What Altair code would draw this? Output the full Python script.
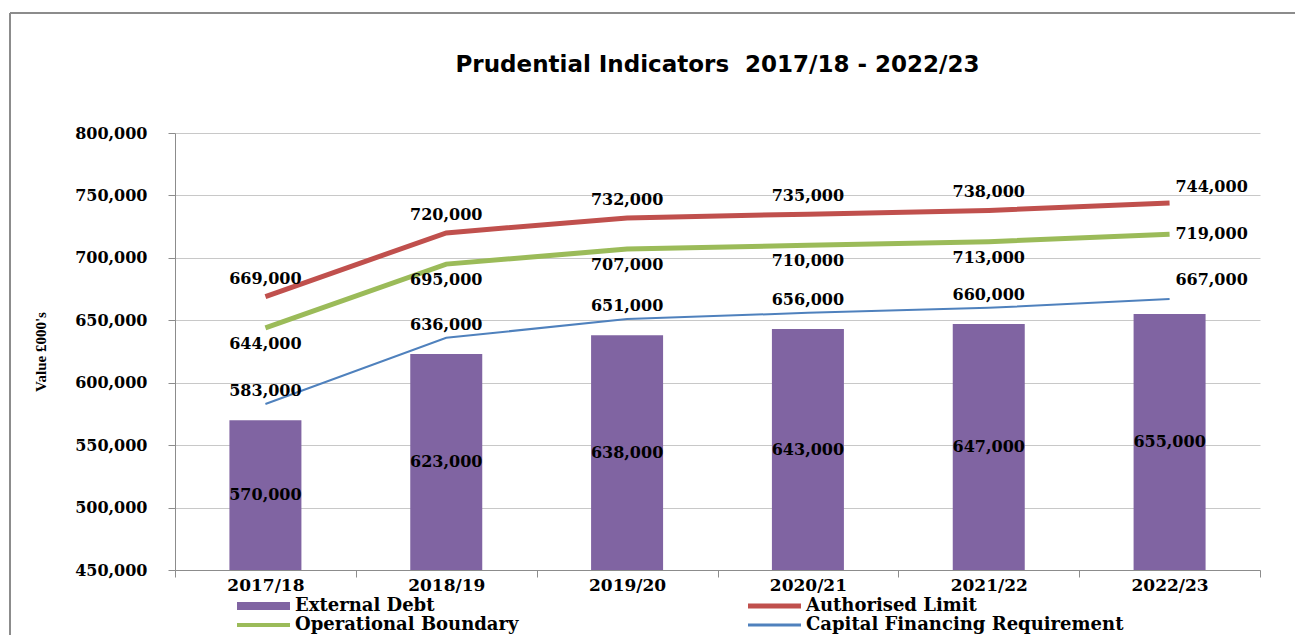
import altair as alt
import pandas as pd

years = ["2017/18", "2018/19", "2019/20", "2020/21", "2021/22", "2022/23"]
external_debt = [570000, 623000, 638000, 643000, 647000, 655000]
authorised_limit = [669000, 720000, 732000, 735000, 738000, 744000]
operational_boundary = [644000, 695000, 707000, 710000, 713000, 719000]
capital_financing = [583000, 636000, 651000, 656000, 660000, 667000]

series_names = ["External Debt", "Authorised Limit", "Operational Boundary",
                "Capital Financing Requirement"]
series_colors = ["#8064A2", "#C0504D", "#9BBB59", "#4F81BD"]
line_widths = [5, 5, 2]
legend_widths = [8, 5, 4, 3]

bars_df = pd.DataFrame({"year": years, "value": external_debt, "series": series_names[0]})
rows = []
for name, vals in zip(series_names[1:], [authorised_limit, operational_boundary, capital_financing]):
    for y, v in zip(years, vals):
        rows.append({"year": y, "value": v, "series": name})
lines_df = pd.DataFrame(rows)

LABEL_FONT = "DejaVu Serif"
W, H = 1085, 437

x_enc = alt.X("year:N", sort=years,
              scale=alt.Scale(domain=years, paddingInner=0, paddingOuter=0),
              axis=alt.Axis(title=None, labelAngle=0, labelFont=LABEL_FONT,
                            labelFontWeight="bold", labelFontSize=17, labelColor="black",
                            domainColor="#8c8c8c", tickColor="#8c8c8c", tickBand="extent",
                            tickSize=7, labelPadding=0, grid=False))
y_scale = alt.Scale(domain=[450000, 800000], nice=False, zero=False)
y_axis = alt.Axis(values=list(range(450000, 800001, 50000)), format=",.0f",
                  labelFont=LABEL_FONT, labelFontWeight="bold", labelFontSize=16,
                  labelColor="black", labelPadding=21, tickSize=7, tickColor="#8c8c8c",
                  domainColor="#8c8c8c", gridColor="#c8c8c8", title="Value £000's",
                  titleFont="Liberation Serif", titleFontSize=15, titleFontWeight="bold",
                  titleColor="black", titlePadding=26)


def yq(field):
    return alt.Y(field, type="quantitative", scale=y_scale, axis=y_axis)


bars = alt.Chart(bars_df).mark_bar(size=72, color=series_colors[0], clip=True).encode(
    x=x_enc,
    y=yq("value"),
)

text_style = dict(font=LABEL_FONT, fontWeight="bold", fontSize=16, color="black")

bar_labels = alt.Chart(bars_df).transform_calculate(
    mid="(450000 + datum.value) / 2"
).mark_text(**text_style).encode(
    x=x_enc,
    y=yq("mid"),
    text=alt.Text("value:Q", format=",.0f"),
)

line_layers = []
for name, sw, col in zip(series_names[1:], line_widths, series_colors[1:]):
    line_layers.append(
        alt.Chart(lines_df).transform_filter(alt.datum.series == name)
        .mark_line(strokeWidth=sw, color=col)
        .encode(x=x_enc, y=yq("value"))
    )

label_dy = {"Authorised Limit": (-18, -16), "Operational Boundary": (16, 0),
            "Capital Financing Requirement": (-13, -19)}
label_layers = []
for name, (dy, dy_last) in label_dy.items():
    base = alt.Chart(lines_df).transform_filter(alt.datum.series == name)
    label_layers.append(
        base.transform_filter(alt.datum.year != years[-1]).mark_text(dy=dy, **text_style)
        .encode(x=x_enc, y=yq("value"), text=alt.Text("value:Q", format=",.0f"))
    )
    label_layers.append(
        base.transform_filter(alt.datum.year == years[-1]).mark_text(dx=42, dy=dy_last, **text_style)
        .encode(x=x_enc, y=yq("value"), text=alt.Text("value:Q", format=",.0f"))
    )

# Legend (two rows x two columns, below the axis)
one = alt.Data(values=[{"k": 0}])
legend_layers = []
for i, (name, col, lw) in enumerate(zip(series_names, series_colors, legend_widths)):
    lx = 62 + (i % 2) * 511
    ly = 473 + (i // 2) * 19
    legend_layers.append(
        alt.Chart(one).mark_rule(color=col, strokeWidth=lw).encode(
            x=alt.value(lx), x2=alt.value(lx + 53), y=alt.value(ly))
    )
    legend_layers.append(
        alt.Chart(one).mark_text(align="left", baseline="middle", font=LABEL_FONT,
                                 fontWeight="bold", fontSize=18, color="black").encode(
            x=alt.value(lx + 58), y=alt.value(ly), text=alt.value(name))
    )

frame_left = alt.Chart(one).mark_rule(color="#8c8c8c", strokeWidth=2).encode(
    x=alt.value(-165), y=alt.value(-120), y2=alt.value(H + 70))
frame_top = alt.Chart(one).mark_rule(color="#8c8c8c", strokeWidth=2).encode(
    x=alt.value(-165), x2=alt.value(W + 40), y=alt.value(-120))

chart = alt.layer(bars, bar_labels, *line_layers, *label_layers, *legend_layers,
                  frame_left, frame_top).properties(
    width=W, height=H,
    title=alt.TitleParams("Prudential Indicators\u00a0\u00a02017/18 - 2022/23",
                          font="DejaVu Sans", fontSize=23, fontWeight="bold", color="black",
                          anchor="middle", frame="group", offset=0, dy=65),
    autosize=alt.AutoSizeParams(type="none"),
    padding={"left": 175, "top": 133, "right": 35, "bottom": 65},
    background="white",
).configure_view(stroke=None)

chart.save("out.html", embed_options={"renderer": "svg", "actions": False})
